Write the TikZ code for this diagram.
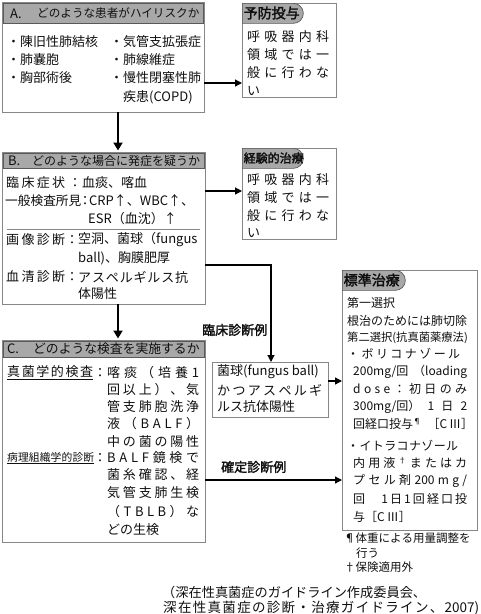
\documentclass[tikz,border=0pt]{standalone}
\usepackage{fontspec}
\setmainfont[AutoFakeBold=2]{Noto Sans CJK JP}
\usetikzlibrary{shapes.misc,arrows.meta}
\definecolor{hdrfill}{RGB}{168,168,168}
\definecolor{bord}{RGB}{135,135,135}
\definecolor{txt}{RGB}{15,15,15}
\newcommand\fsz[1]{\fontsize{#1}{#1}\selectfont}
\ExplSyntaxOn
\NewDocumentCommand\sprd{mm}{\makebox[#1][s]{\tl_map_inline:nn{#2}{##1\hfil}\unskip}}
\ExplSyntaxOff
\tikzset{
  box/.style={draw=bord, line width=0.9pt, anchor=north west, inner sep=0, outer sep=0},
  hdr/.style={draw=black!65, fill=hdrfill, line width=0.7pt, anchor=north west, inner sep=0},
  tabst/.style={rounded rectangle, rounded rectangle west arc=none, draw=black!65, fill=hdrfill, line width=0.7pt, anchor=north west, inner sep=0},
  t/.style={anchor=west, inner sep=0, font=\fsz{13}, text=txt},
  ts/.style={t, font=\fsz{12}},
  lab/.style={anchor=west, inner sep=0, font=\fsz{13}\bfseries, text=txt},
  big/.style={line width=2pt, -{Triangle[length=8pt,width=9pt]}},
  arr/.style={line width=1.2pt, -{Triangle[length=7pt,width=7pt]}},
  sep/.style={draw=bord, line width=0.9pt}
}
\begin{document}
\begin{tikzpicture}[x=1pt,y=-1pt]
\useasboundingbox (0,0) rectangle (480,614);
% ---------- Box A
\node[box, minimum width=202, minimum height=110] (A) at (2,2) {};
\node[hdr, minimum width=200, minimum height=20] (Ah) at (3,3) {};
\node[t] (Ah1) at (10,13.5) {A.};
\node[t, font=\fsz{11.6}] (Ah2) at (37,13.5) {どのような患者がハイリスクか};
\node[t] (A1) at (7,42) {・陳旧性肺結核};
\node[t] (A2) at (7,60) {・肺嚢胞};
\node[t] (A3) at (7,78) {・胸部術後};
\node[t] (A4) at (110,42) {・気管支拡張症};
\node[t] (A5) at (110,60) {・肺線維症};
\node[t] (A6) at (110,78) {・慢性閉塞性肺};
\node[t] (A7) at (123,97) {疾患(COPD)};
% ---------- Box P
\node[box, minimum width=94, minimum height=94] (P) at (242,3) {};
\node[tabst, minimum width=61, minimum height=20] (Pt) at (242,3) {};
\node[lab, font=\fsz{14}\bfseries] (Ptt) at (243.5,13) {予防投与};
\node[t] (P1) at (247,37) {\sprd{82pt}{呼吸器内科}};
\node[t] (P2) at (247,55) {\sprd{82pt}{領域では一}};
\node[t] (P3) at (247,73) {\sprd{82pt}{般に行わな}};
\node[t] (P4) at (247,91) {い};
% ---------- Box B
\node[box, minimum width=203, minimum height=152] (B) at (2,152) {};
\node[hdr, minimum width=201, minimum height=15] (Bh) at (3,153) {};
\node[t] (Bh1) at (8,160.5) {B.};
\node[t, font=\fsz{12}] (Bh2) at (32,160.5) {どのような場合に発症を疑うか};
\node[t] (B1a) at (6,183) {\sprd{59pt}{臨床症状}};
\node[t, anchor=center] (B1b) at (75,183) {：};
\node[t] (B1c) at (82,183) {血痰、喀血};
\node[t, font=\fsz{12.7}] (B2a) at (5,201) {一般検査所見};
\node[t, anchor=center] (B2b) at (85,201) {：};
\node[t] (B2c) at (89,201) {CRP↑、WBC↑、};
\node[t] (B3c) at (88,219) {ESR（血沈）↑};
\draw[sep] (7,229) -- (200,229);
\node[t] (B4a) at (6,240) {\sprd{59pt}{画像診断}};
\node[t, anchor=center] (B4b) at (72,240) {：};
\node[t] (B4c) at (78,240) {空洞、菌球（fungus};
\node[t] (B5c) at (78,258) {ball)、胸膜肥厚};
\node[t] (B6a) at (6,277) {\sprd{59pt}{血清診断}};
\node[t, anchor=center] (B6b) at (72,277) {：};
\node[t] (B6c) at (78,277) {\sprd{110pt}{アスペルギルス抗}};
\node[t] (B7c) at (78,294) {体陽性};
% ---------- Box E
\node[box, minimum width=94, minimum height=91] (E) at (242,148) {};
\node[tabst, minimum width=61, minimum height=20] (Et) at (242,148) {};
\node[lab, font=\fsz{12}\bfseries] (Ett) at (243.5,158) {経験的治療};
\node[t] (E1) at (247,180) {\sprd{82pt}{呼吸器内科}};
\node[t] (E2) at (247,198) {\sprd{82pt}{領域では一}};
\node[t] (E3) at (247,216) {\sprd{82pt}{般に行わな}};
\node[t] (E4) at (247,233) {い};
% ---------- Box C
\node[box, minimum width=203, minimum height=202] (C) at (2,340) {};
\node[hdr, minimum width=201, minimum height=16] (Ch) at (3,341) {};
\node[t] (Ch1) at (7,349) {C.};
\node[t, font=\fsz{12.8}] (Ch2) at (33,349) {どのような検査を実施するか};
\node[t] (C1a) at (7,373) {\underline{\sprd{86pt}{真菌学的検査}}};
\node[t, anchor=center] (C1b) at (100,373) {：};
\node[t] (C1) at (107,373) {\sprd{92pt}{喀痰（培養1}};
\node[t] (C2) at (107,390) {\sprd{92pt}{回以上）、気}};
\node[t] (C3) at (107,407) {\sprd{92pt}{管支肺胞洗浄}};
\node[t] (C4) at (107,424) {\sprd{92pt}{液（BALF）}};
\node[t] (C5) at (107,442) {\sprd{92pt}{中の菌の陽性}};
\node[t, font=\fsz{10.8}] (C6a) at (7,458) {\underline{\sprd{87pt}{病理組織学的診断}}};
\node[t, anchor=center] (C6b) at (100,458) {：};
\node[t] (C6) at (107,458) {\sprd{92pt}{BALF鏡検で}};
\node[t] (C7) at (107,475) {\sprd{92pt}{菌糸確認、経}};
\node[t] (C8) at (107,493) {\sprd{92pt}{気管支肺生検}};
\node[t] (C9) at (107,512) {\sprd{92pt}{（TBLB）な}};
\node[t] (C10) at (107,530) {どの生検};
% ---------- Box F
\node[box, minimum width=116, minimum height=55] (F) at (212,362) {};
\node[t] (F1) at (217,372) {菌球(fungus ball)};
\node[t] (F2) at (217,390) {\sprd{105pt}{かつアスペルギ}};
\node[t] (F3) at (217,407) {ルス抗体陽性};
% ---------- Box S
\node[box, minimum width=135, minimum height=260] (S) at (342,270) {};
\node[tabst, minimum width=63, minimum height=20] (St) at (342,270) {};
\node[lab, font=\fsz{14}\bfseries] (Stt) at (343.5,280) {標準治療};
\node[ts] (S1) at (347,303) {第一選択};
\node[ts] (S2) at (347,321) {根治のためには肺切除};
\node[ts, font=\fsz{11.3}] (S3) at (347,338) {第二選択(抗真菌薬療法)};
\node[ts] (S4) at (347,354) {\sprd{113pt}{・ボリコナゾール}};
\node[ts] (S5) at (353,372) {\makebox[114pt][s]{200mg/回\hfil（loading}};
\node[ts] (S6) at (353,389) {\sprd{114pt}{dose：初日のみ}};
\node[ts] (S7) at (353,407) {\makebox[114pt][s]{300mg/回）\hfil 1\hfil 日\hfil 2}};
\node[ts] (S8) at (353,424) {\makebox[120pt][s]{回経口投与\textsuperscript{¶}\hfil［C\,Ⅲ］}};
\node[ts] (S9) at (347,446) {\sprd{111pt}{・イトラコナゾール}};
\node[ts] (S10) at (353,463) {\sprd{114pt}{内用液{\textsuperscript{†}}またはカ}};
\node[ts] (S11) at (353,481) {\sprd{114pt}{プセル剤{200}mg/}};
\node[ts] (S12) at (353,499) {\sprd{114pt}{回　1日1回経口投}};
\node[ts] (S13) at (353,517) {与［C\,Ⅲ］};
% footnotes
\node[t, font=\fsz{11.5}] (N1) at (344,538) {\sprd{123pt}{¶体重による用量調整を}};
\node[t, font=\fsz{11.5}] (N2) at (356,553) {行う};
\node[t, font=\fsz{11.5}] (N3) at (344,567) {†保険適用外};
% caption
\node[t, font=\fsz{13.2}] (Cap1) at (162,592) {（深在性真菌症のガイドライン作成委員会、};
\node[t, font=\fsz{13.5}] (Cap2) at (163,608) {\sprd{316pt}{深在性真菌症の診断・治療ガイドライン、{2007)}}};
% labels
\node[lab] (L1) at (202,330) {臨床診断例};
\node[lab] (L2) at (221,467) {確定診断例};
% ---------- connectors
\coordinate (xM) at (118,0);
\coordinate (yAP) at (0,83);
\coordinate (yBE) at (0,191);
\coordinate (yBF) at (0,265);
\coordinate (xF) at (271,0);
\coordinate (yFS) at (0,381);
\coordinate (yCS) at (0,480);
\draw[arr] (A.east |- yAP) -- (P.west |- yAP);
\draw[big] (A.south -| xM) -- ([yshift=1.5pt]B.north -| xM);
\draw[arr] (B.east |- yBE) -- (E.west |- yBE);
\draw[arr] (B.east |- yBF) -| (F.north -| xF);
\draw[big] (B.south -| xM) -- ([yshift=1.5pt]C.north -| xM);
\draw[arr] (F.east |- yFS) -- (S.west |- yFS);
\draw[arr] (C.east |- yCS) -- (S.west |- yCS);
\end{tikzpicture}
\end{document}
